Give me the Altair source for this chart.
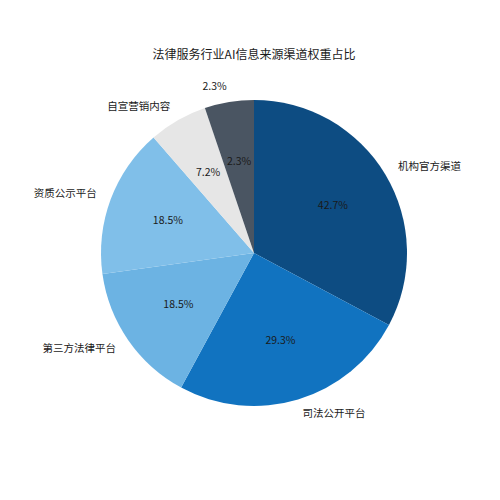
import altair as alt
import pandas as pd

title_text = "法律服务行业AI信息来源渠道权重占比"
categories = ["机构官方渠道", "司法公开平台", "第三方法律平台", "资质公示平台", "自宣营销内容", "2.3%"]
# slice sizes as drawn
shares = [32.8, 25.1, 14.9, 15.8, 6.2, 5.2]
# percentage labels as printed inside the slices
pct_labels = ["42.7%", "29.3%", "18.5%", "18.5%", "7.2%", "2.3%"]
sides = ["right", "right", "left", "left", "left", "left"]
colors = ["#0d4c82", "#1173c0", "#6cb3e3", "#80bfe9", "#e6e6e6", "#4a5562"]

df = pd.DataFrame({
    "category": categories,
    "share": shares,
    "pct": pct_labels,
    "order": list(range(len(categories))),
    "right_label": [c if s == "right" else "" for c, s in zip(categories, sides)],
    "left_label": [c if s == "left" else "" for c, s in zip(categories, sides)],
})

FONT = "Noto Sans CJK SC"

base = alt.Chart(df).encode(
    theta=alt.Theta("share:Q", stack=True),
    order=alt.Order("order:Q"),
)

pie = base.mark_arc(outerRadius=153, stroke=None).encode(
    color=alt.Color("category:N", scale=alt.Scale(domain=categories, range=colors), legend=None)
)

inner = base.mark_text(radius=92, font=FONT, fontSize=10.5, color="#1a1a1a", baseline="middle", align="center").encode(
    text="pct:N"
)

outer_right = base.mark_text(radius=168, font=FONT, fontSize=10.5, color="#1a1a1a", baseline="middle", align="left").encode(
    text="right_label:N"
)
outer_left = base.mark_text(radius=168, font=FONT, fontSize=10.5, color="#1a1a1a", baseline="middle", align="right").encode(
    text="left_label:N"
)

title = alt.Chart(pd.DataFrame({"t": [title_text]})).mark_text(
    font=FONT, fontSize=12, color="#1a1a1a", align="center", baseline="middle"
).encode(x=alt.value(238), y=alt.value(40), text="t:N")

chart = alt.layer(pie, inner, outer_right, outer_left, title).properties(
    width=476, height=476,
    autosize=alt.AutoSizeParams(type="none"),
    padding={"left": 8, "top": 7, "right": 0, "bottom": 0},
    background="white",
).configure_view(stroke=None)

chart.save("out.html", embed_options={"renderer": "svg", "actions": False})
